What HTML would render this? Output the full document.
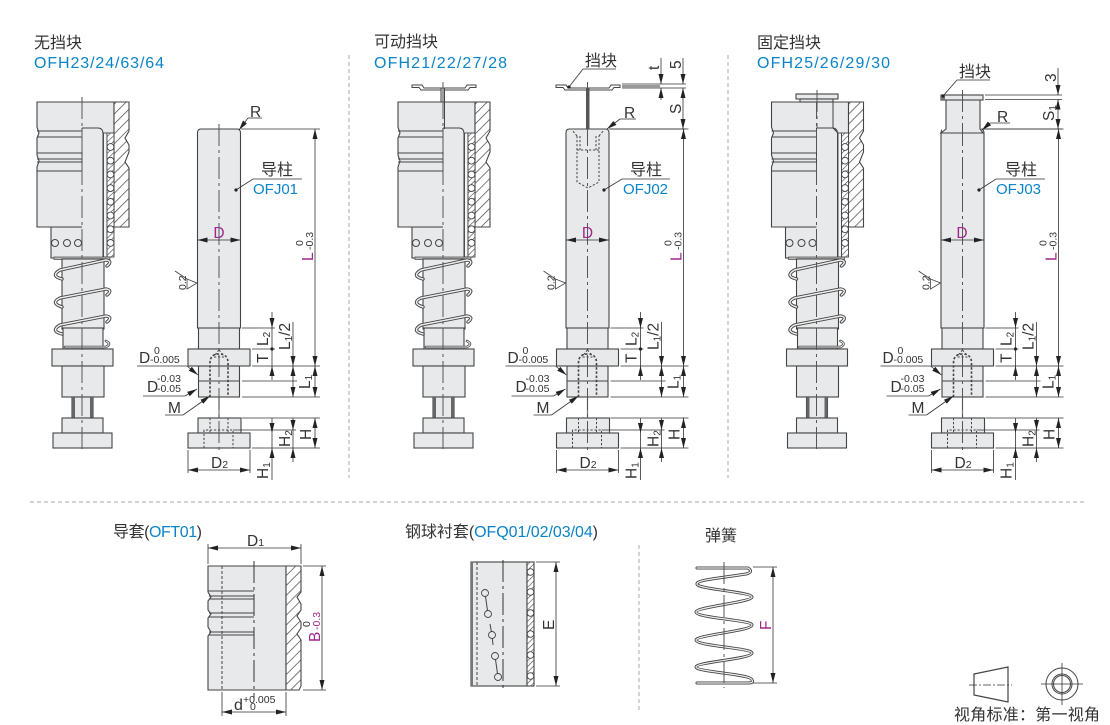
<!DOCTYPE html>
<html><head><meta charset="utf-8">
<style>
html,body{margin:0;padding:0;background:#fff}
svg{display:block}
text{font-family:"Liberation Sans","Noto Sans CJK SC",sans-serif;fill:#333}
.b{fill:#0a84c8}
.m{fill:#a0268c}
.t{font-size:16px}
.bt{font-size:16px;fill:#0a84c8}
.d{font-size:15.5px}
.s{font-size:10.5px}
.o{fill:#e8e9eb;stroke:#444;stroke-width:1.1}
.l{fill:none;stroke:#444;stroke-width:1}
.dim{fill:none;stroke:#333;stroke-width:.8}
.a{fill:none;stroke:#333;stroke-width:.8;marker-end:url(#ar)}
.aa{fill:none;stroke:#333;stroke-width:.8;marker-end:url(#ar);marker-start:url(#ar2)}
.c{fill:none;stroke:#555;stroke-width:1;stroke-dasharray:22 4 3 4}
.h{fill:none;stroke:#444;stroke-width:1;stroke-dasharray:2.2 1.8}
.hb{fill:none;stroke:#444;stroke-width:1.6;stroke-dasharray:2.4 1.8}
.sp1{fill:none;stroke:#444;stroke-width:3.4;stroke-linejoin:round;stroke-linecap:round}
.sp2{fill:none;stroke:#eee;stroke-width:1.5;stroke-linejoin:round;stroke-linecap:round}
.sep{stroke:#aaa;stroke-width:1;stroke-dasharray:4 3;fill:none}
</style></head><body>
<svg width="1110" height="725" viewBox="0 0 1110 725" xmlns="http://www.w3.org/2000/svg">
<defs>
<marker id="ar" markerUnits="userSpaceOnUse" markerWidth="11" markerHeight="7" refX="10" refY="3.5" orient="auto"><path d="M0 1L10 3.5L0 6Z" fill="#222"/></marker>
<marker id="ar2" markerUnits="userSpaceOnUse" markerWidth="11" markerHeight="7" refX="0" refY="3.5" orient="auto"><path d="M10 1L0 3.5L10 6Z" fill="#222"/></marker>
<pattern id="hat" width="7" height="7" patternUnits="userSpaceOnUse" patternTransform="rotate(45)"><rect width="7" height="7" fill="#fff"/><line x1="0" y1="0" x2="0" y2="7" stroke="#444" stroke-width="1.4"/></pattern>
<pattern id="hat2" width="4" height="4" patternUnits="userSpaceOnUse" patternTransform="rotate(45)"><rect width="4" height="4" fill="#fff"/><line x1="0" y1="0" x2="0" y2="4" stroke="#444" stroke-width="1.2"/></pattern>

<g id="balls">
<circle cx="0" cy="0" r="3.4"/><circle cx="0" cy="13.7" r="3.4"/><circle cx="0" cy="27.4" r="3.4"/><circle cx="0" cy="41.1" r="3.4"/><circle cx="0" cy="54.8" r="3.4"/><circle cx="0" cy="68.5" r="3.4"/><circle cx="0" cy="82.2" r="3.4"/><circle cx="0" cy="95.9" r="3.4"/>
</g>

<g id="asm">
<rect class="o" x="51" y="227" width="52" height="31"/>
<path class="o" d="M37 102H114V227H37V167L39 161L37 155V138L39 133L37 127Z"/>
<path d="M82 103H113V133H103V258H82Z" fill="#e8e9eb"/>
<path class="l" d="M51 227H82M82 128H98Q103 128 103 134V258M82 128V171"/>
<path class="o" d="M114 102H129V131L125 138L129 145V152L125 162L129 168V227H114Z" style="fill:url(#hat)"/>
<rect x="103.500" y="133" width="3.500" height="124" fill="#f4f4f4" stroke="#444" stroke-width=".9"/>
<rect x="107" y="133" width="7" height="124" fill="url(#hat2)" stroke="#444" stroke-width=".9"/>
<use href="#balls" x="110.5" y="147" fill="#fff" stroke="#444" stroke-width=".9"/>
<path class="l" d="M37 131H82M37 137H82M37 153H82M37 159H82M37 162H82M37 171H82"/>
<g fill="none" stroke="#444" stroke-width="1"><circle cx="55" cy="243" r="3.5"/><circle cx="67" cy="243" r="3.5"/><circle cx="78" cy="243" r="3.5"/></g>
<rect x="54" y="257" width="56" height="2.5" fill="#bbb" stroke="#444" stroke-width=".7"/>
<rect class="o" x="62" y="259" width="42" height="70"/>
<rect class="o" x="63" y="328" width="40" height="21"/>
<path class="sp1" d="M62 279Q50 276 60 270L106 260Q113 261 107 266"/><path class="sp2" d="M62 279Q50 276 60 270L106 260Q113 261 107 266"/>
<path class="sp1" d="M62 307Q50 303 60 298L106 289Q113 290 107 295"/><path class="sp2" d="M62 307Q50 303 60 298L106 289Q113 290 107 295"/>
<path class="sp1" d="M62 334Q50 331 60 325L106 316Q113 317 107 322"/><path class="sp2" d="M62 334Q50 331 60 325L106 316Q113 317 107 322"/>
<path class="sp1" d="M65 347H106Q112 344 106 341" style="stroke-width:2.6"/><path class="sp2" d="M65 347H106Q112 344 106 341" style="stroke-width:1"/>
<rect class="o" x="52" y="349" width="61" height="17"/>
<rect class="o" x="62" y="366" width="42" height="31"/>
<rect class="o" x="72" y="397" width="21" height="21"/>
<rect x="72" y="397" width="3" height="21" fill="#666"/><rect x="90" y="397" width="3" height="21" fill="#666"/>
<rect class="o" x="62" y="418" width="41" height="15"/>
<rect class="o" x="53" y="433" width="59" height="15"/>
<path class="c" d="M82 97V453"/>
</g>

<g id="post">
<path class="o" d="M197.500 133Q197.500 129 201 129H237Q240.500 129 240.500 133V328H197.500Z"/>
<rect class="o" x="198.500" y="328" width="41" height="21"/>
<rect class="o" x="198.500" y="366" width="41" height="31"/>
<path class="l" d="M198.500 381H239.500"/>
<rect class="o" x="188" y="349" width="62" height="17"/>
<path class="dim" d="M219 397V418" style="stroke-width:1.2;stroke:#777"/>
<rect class="o" x="198" y="418" width="43" height="15"/>
<rect class="o" x="188" y="433" width="62" height="15"/>
<path class="hb" d="M210 397V363Q210 354 219 354Q228 354 228 363V397"/>
<path class="h" d="M214 357H224M219 350L214 356M219 350L224 356"/>
<path class="h" d="M210 418V433M228 418V433M204 448V430H233V448"/>
<path class="c" d="M219 124V453"/>
<path class="dim" d="M241 129H320M252 366H320M242 397H320M242 381H297M242 328H275M252 349H275M242 418H320M233 430H296M252 448H320"/>
<path class="aa" d="M315 129V366"/><path class="aa" d="M315 366V397"/><path class="aa" d="M315 418V448"/>
<path class="a" d="M272 312V328"/><path class="dim" d="M272 328V366"/><path class="a" d="M272 380V366"/>
<circle cx="272" cy="349" r="1.6" fill="#222"/>
<path class="a" d="M293 322V366"/><path class="aa" d="M293 366V397"/>
<path class="a" d="M293 418V430"/><path class="a" d="M293 462V448"/><path class="dim" d="M293 430V448"/>
<path class="a" d="M272 418V433"/><path class="a" d="M272 480V448"/><path class="dim" d="M272 433V448"/>
<path class="aa" d="M188 470H250"/><path class="dim" d="M188 450V473M250 450V473"/>
<path class="aa" d="M197.500 240H240.500"/>
<path class="dim" d="M175 271L187 279M187 279L197 283L187 289Z" style="stroke:#444"/>
<path class="dim" d="M137 366H187"/><path class="a" d="M187 366L198 375"/>
<path class="dim" d="M143 396H185"/><path class="a" d="M185 396L197 389"/>
<path class="dim" d="M165 415H183"/><path class="a" d="M183 415L210 396"/>
</g>
</defs>

<!-- separators -->
<path class="sep" d="M349 55V478M728 55V478M30 502H1085M639 545V713"/>

<!-- Panel 1 -->
<text x="34" y="48" class="t">无挡块</text>
<text x="34" y="68" class="bt" textLength="130">OFH23/24/63/64</text>
<use href="#asm"/>
<use href="#post"/>
<path class="dim" d="M262 118H248"/><path class="a" d="M248 118L239 130"/>
<text x="250" y="117" class="d">R</text>
<text x="261" y="175" class="t">导柱</text>
<path class="dim" d="M302 179H253L236 190"/><circle cx="236" cy="190" r="1.6" fill="#222"/>
<text x="253" y="194" class="b" style="font-size:15px">OFJ01</text>
<text x="219" y="238" class="d m" text-anchor="middle">D</text>
<g>
<text transform="translate(313 261) rotate(-90)" class="d m">L</text>
<text transform="translate(313 250) rotate(-90)" class="s">-0.3</text>
<text transform="translate(303 246) rotate(-90)" class="s">0</text>
<text transform="translate(186 290) rotate(-90)" class="s">0.2</text>
<text x="139" y="363" class="d">D</text><text x="154" y="354" class="s">0</text><text x="150" y="363" class="s">-0.005</text>
<text x="147" y="392" class="d">D</text><text x="157" y="382" class="s">-0.03</text><text x="157" y="392" class="s">-0.05</text>
<text x="168" y="413" class="d">M</text>
<text x="211" y="468" class="d">D<tspan font-size="10.500">2</tspan></text>
<text transform="translate(268 346) rotate(-90)" class="d">L<tspan font-size="10" dy="2">2</tspan></text>
<text transform="translate(268 363) rotate(-90)" class="d">T</text>
<text transform="translate(290 350) rotate(-90)" class="d">L<tspan font-size="10" dy="2">1</tspan><tspan dy="-2">/2</tspan></text>
<text transform="translate(310 389) rotate(-90)" class="d">L<tspan font-size="10" dy="2">1</tspan></text>
<text transform="translate(290 447) rotate(-90)" class="d">H<tspan font-size="10" dy="2">2</tspan></text>
<text transform="translate(311 440) rotate(-90)" class="d">H</text>
<text transform="translate(268 479) rotate(-90)" class="d">H<tspan font-size="10" dy="2">1</tspan></text>
</g>

<!-- Panel 2 -->
<text x="374" y="47" class="t">可动挡块</text>
<text x="374" y="68" class="bt" textLength="133">OFH21/22/27/28</text>
<use href="#asm" x="361"/>
<path class="l" d="M412 85H422L424 88H465L467 85H476V87.500H470L468 90H421L419 87.500H412Z"/>
<rect x="441" y="88" width="3.500" height="14" fill="#e8e9eb" stroke="#444" stroke-width="1"/>
<path class="l" d="M444.500 102V129"/>
<path class="c" d="M443 82V102"/>
<use href="#post" x="368.500"/>
<path class="l" d="M556 85H566L568 88H609L611 85H620V87.500H614L612 90H565L563 87.500H556Z"/>
<rect x="586" y="88" width="3.500" height="41" fill="#555"/>
<path class="c" d="M587.500 82V129"/>
<path class="h" d="M577 136V182L588 188L599 182V136M577 136L572 130M599 136L604 130M577 150H599M580 136V150M596 136V150"/>
<path class="dim" d="M622 84H686M622 88H686M609 129H686"/>
<rect x="622" y="85" width="38" height="3" fill="#999"/>
<path class="a" d="M661 58V84"/><path class="a" d="M661 100V88"/>
<path class="a" d="M683 58V84"/><path class="aa" d="M683 88V129"/>
<path class="dim" d="M636 119H620"/><path class="a" d="M620 119L607 129"/>
<text x="624" y="118" class="d">R</text>
<text x="585" y="66" class="t">挡块</text>
<path class="dim" d="M616 69H583L569 87"/><circle cx="569" cy="87" r="1.600" fill="#222"/>
<text x="630" y="175" class="t">导柱</text>
<path class="dim" d="M670 179H622L604 190"/><circle cx="604" cy="190" r="1.600" fill="#222"/>
<text x="623" y="194" class="b" style="font-size:15px">OFJ02</text>
<text x="587.500" y="238" class="d m" text-anchor="middle">D</text>
<text transform="translate(659 70) rotate(-90)" class="d">t</text>
<text transform="translate(681 69) rotate(-90)" class="d">5</text>
<text transform="translate(681 114) rotate(-90)" class="d">S</text>
<g transform="translate(368.500 0)">
<text transform="translate(313 261) rotate(-90)" class="d m">L</text>
<text transform="translate(313 250) rotate(-90)" class="s">-0.3</text>
<text transform="translate(303 246) rotate(-90)" class="s">0</text>
<text transform="translate(186 290) rotate(-90)" class="s">0.2</text>
<text x="139" y="363" class="d">D</text><text x="154" y="354" class="s">0</text><text x="150" y="363" class="s">-0.005</text>
<text x="147" y="392" class="d">D</text><text x="157" y="382" class="s">-0.03</text><text x="157" y="392" class="s">-0.05</text>
<text x="168" y="413" class="d">M</text>
<text x="211" y="468" class="d">D<tspan font-size="10.500">2</tspan></text>
<text transform="translate(268 346) rotate(-90)" class="d">L<tspan font-size="10" dy="2">2</tspan></text>
<text transform="translate(268 363) rotate(-90)" class="d">T</text>
<text transform="translate(290 350) rotate(-90)" class="d">L<tspan font-size="10" dy="2">1</tspan><tspan dy="-2">/2</tspan></text>
<text transform="translate(310 389) rotate(-90)" class="d">L<tspan font-size="10" dy="2">1</tspan></text>
<text transform="translate(290 447) rotate(-90)" class="d">H<tspan font-size="10" dy="2">2</tspan></text>
<text transform="translate(311 440) rotate(-90)" class="d">H</text>
<text transform="translate(268 479) rotate(-90)" class="d">H<tspan font-size="10" dy="2">1</tspan></text>
</g>

<!-- Panel 3 -->
<text x="757" y="48" class="t">固定挡块</text>
<text x="757" y="68" class="bt" textLength="133">OFH25/26/29/30</text>
<use href="#asm" x="734.500"/>
<rect class="o" x="796" y="94" width="42" height="5"/>
<rect class="o" x="800" y="99" width="33" height="3"/>
<path class="l" d="M833 102V128L838 133"/>
<path class="c" d="M817 90V128"/>
<use href="#post" x="743.500"/>
<rect x="942" y="125" width="40" height="6" fill="#fff"/>
<path class="o" d="M946 100H980V129L983 133H941L946 129Z"/>
<rect class="o" x="941" y="95" width="42" height="5"/>
<rect x="941" y="95" width="4" height="5" fill="#777"/>
<path class="c" d="M962.500 90V133"/>
<path class="dim" d="M985 95H1062M985 99.500H1062M981 129H1062"/>
<path class="a" d="M1058 68V95"/><path class="aa" d="M1058 99.500V129"/>
<path class="dim" d="M1010 123H990"/><path class="a" d="M990 123L982 130"/>
<text x="997" y="122" class="d">R</text>
<text x="959" y="77" class="t">挡块</text>
<path class="dim" d="M990 80H957L943 96"/><circle cx="943" cy="96" r="1.600" fill="#222"/>
<text x="1005" y="175" class="t">导柱</text>
<path class="dim" d="M1045 179H996L979 190"/><circle cx="979" cy="190" r="1.600" fill="#222"/>
<text x="996" y="194" class="b" style="font-size:15px">OFJ03</text>
<text x="962" y="238" class="d m" text-anchor="middle">D</text>
<text transform="translate(1056 82) rotate(-90)" class="d">3</text>
<text transform="translate(1054 121) rotate(-90)" class="d">S<tspan font-size="10" dy="2">1</tspan></text>
<g transform="translate(743.500 0)">
<text transform="translate(313 261) rotate(-90)" class="d m">L</text>
<text transform="translate(313 250) rotate(-90)" class="s">-0.3</text>
<text transform="translate(303 246) rotate(-90)" class="s">0</text>
<text transform="translate(186 290) rotate(-90)" class="s">0.2</text>
<text x="139" y="363" class="d">D</text><text x="154" y="354" class="s">0</text><text x="150" y="363" class="s">-0.005</text>
<text x="147" y="392" class="d">D</text><text x="157" y="382" class="s">-0.03</text><text x="157" y="392" class="s">-0.05</text>
<text x="168" y="413" class="d">M</text>
<text x="211" y="468" class="d">D<tspan font-size="10.500">2</tspan></text>
<text transform="translate(268 346) rotate(-90)" class="d">L<tspan font-size="10" dy="2">2</tspan></text>
<text transform="translate(268 363) rotate(-90)" class="d">T</text>
<text transform="translate(290 350) rotate(-90)" class="d">L<tspan font-size="10" dy="2">1</tspan><tspan dy="-2">/2</tspan></text>
<text transform="translate(310 389) rotate(-90)" class="d">L<tspan font-size="10" dy="2">1</tspan></text>
<text transform="translate(290 447) rotate(-90)" class="d">H<tspan font-size="10" dy="2">2</tspan></text>
<text transform="translate(311 440) rotate(-90)" class="d">H</text>
<text transform="translate(268 479) rotate(-90)" class="d">H<tspan font-size="10" dy="2">1</tspan></text>
</g>

<!-- Guide bush -->
<text x="113" y="537" class="t" textLength="89">导套(<tspan class="b">OFT01</tspan>)</text>
<path class="o" d="M208 566H286V690H208V636L211 632L208 627V618L211 614L208 610V601L211 597L208 592Z"/>
<path class="o" d="M286 566H301V592L297 597L301 604V610L297 616L301 622V628L297 634L301 640V686L299 690H286Z" style="fill:url(#hat)"/>
<path class="l" d="M209 596H254M209 599H254M209 613H254M209 617H254M209 632H254M209 635H254M208 591H254"/>
<path class="h" d="M222 566V690" style="stroke-dasharray:3 2"/>
<path class="c" d="M254 561V700" style="stroke:#333"/>
<path class="dim" d="M208 544V564M301 544V564M303 566H326M303 690H326M222 692V716M286 692V716"/>
<path class="aa" d="M208 548H301"/><path class="aa" d="M322 566V690"/><path class="aa" d="M222 712H286"/>
<text x="247" y="546" class="d">D<tspan font-size="10.500">1</tspan></text>
<text transform="translate(320 642) rotate(-90)" class="d m">B</text>
<text transform="translate(320 630) rotate(-90)" class="s m">-0.3</text>
<text transform="translate(310 627) rotate(-90)" class="s">0</text>
<text x="234" y="710" class="t">d</text><text x="243" y="703" class="s">+0.005</text><text x="250" y="710" class="s">0</text>

<!-- Ball sleeve -->
<text x="405" y="537" class="t" textLength="193">钢球衬套(<tspan class="b">OFQ01/02/03/04</tspan>)</text>
<rect class="o" x="471" y="562" width="56" height="124"/>
<rect x="471" y="562" width="2" height="124" fill="#777"/>
<rect class="o" x="527" y="562" width="7" height="124" style="fill:url(#hat2)"/>
<g fill="#fff" stroke="#444" stroke-width=".9"><circle cx="530.500" cy="572" r="3.300"/><circle cx="530.500" cy="592" r="3.300"/><circle cx="530.500" cy="613" r="3.300"/><circle cx="530.500" cy="634" r="3.300"/><circle cx="530.500" cy="655" r="3.300"/><circle cx="530.500" cy="676" r="3.300"/></g>
<path class="h" d="M477 562V686" style="stroke-dasharray:3 2"/>
<path class="c" d="M503 560V690" style="stroke:#333"/>
<path class="l" d="M485 593L488 614M490 624L492 635L493 645M495 656L498 677"/>
<g fill="#e8e9eb" stroke="#444" stroke-width=".9"><circle cx="485" cy="593" r="3.500"/><circle cx="488" cy="614" r="3.500"/><circle cx="492" cy="635" r="3.500"/><circle cx="495" cy="656" r="3.500"/><circle cx="498" cy="677" r="3.500"/></g>
<path class="dim" d="M536 562H560M536 686H560"/><path class="aa" d="M556 562V686"/>
<text transform="translate(554 630) rotate(-90)" class="d">E</text>

<!-- Spring -->
<text x="705" y="541" class="t">弹簧</text>
<path class="sp1" style="stroke-width:3" d="M697 568H748Q754 572 746 574C720 578 696 580 697 584C696 589 752 592 752 597C752 602 696 607 696 612C696 618 752 620 752 625C752 631 696 635 696 640C696 646 752 648 752 653C752 659 696 662 696 667C696 672 752 674 752 680Q754 683 748 683H697"/>
<path class="sp2" style="stroke-width:1.200" d="M697 568H748Q754 572 746 574C720 578 696 580 697 584C696 589 752 592 752 597C752 602 696 607 696 612C696 618 752 620 752 625C752 631 696 635 696 640C696 646 752 648 752 653C752 659 696 662 696 667C696 672 752 674 752 680Q754 683 748 683H697"/>
<path class="c" d="M724 562V688"/>
<path class="dim" d="M753 567H777M753 683H777"/><path class="aa" d="M773 567V683"/>
<text transform="translate(771 630) rotate(-90)" class="d m">F</text>

<!-- Projection -->
<path class="l" d="M974 674L1008 667V702L974 695Z" style="stroke-width:1.200"/>
<path class="dim" d="M969 685H1012" style="stroke-dasharray:8 2 2 2"/>
<g fill="none" stroke="#444" stroke-width="1"><circle cx="1062" cy="684" r="16"/><circle cx="1062" cy="684" r="10"/><circle cx="1062" cy="684" r="8.500"/></g>
<path class="dim" d="M1062 663V705M1041 684H1083"/>
<text x="954" y="720" class="t" textLength="146">视角标准：第一视角</text>
</svg>
</body></html>
